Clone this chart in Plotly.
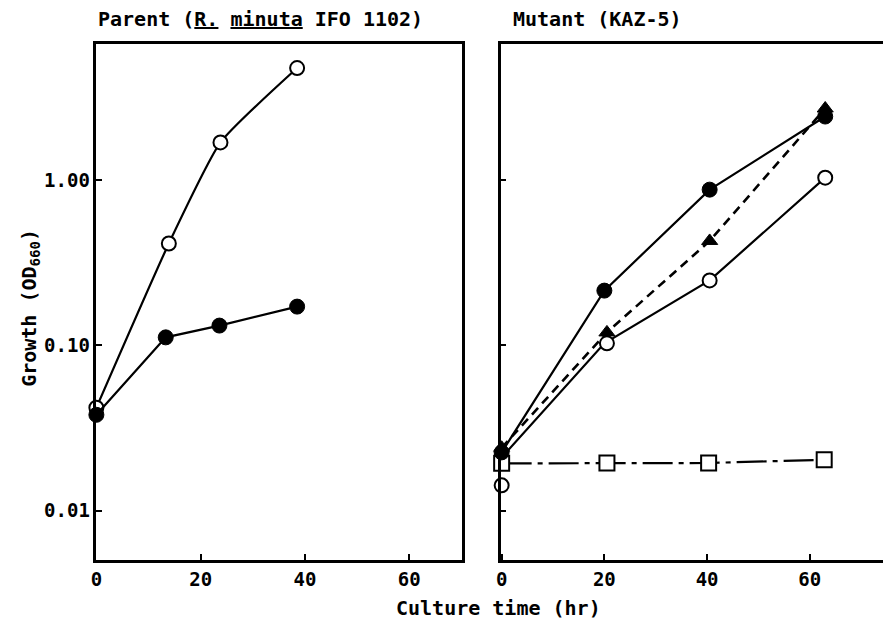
import plotly.graph_objects as go

# ---- data ----
# Parent panel
parent_open_x = [0, 13.9, 23.8, 38.5]
parent_open_y = [0.042, 0.415, 1.70, 4.8]
parent_filled_x = [0, 13.3, 23.6, 38.5]
parent_filled_y = [0.038, 0.112, 0.132, 0.172]

# Mutant panel
mut_x = [0, 20, 40.5, 63]
mut_filled_y = [0.0225, 0.215, 0.88, 2.44]
mut_tri_x = [0, 20.5, 40.5, 63]
mut_tri_y = [0.024, 0.12, 0.43, 2.73]
mut_open_line_y = [0.021, 0.103, 0.248, 1.04]
mut_open_x = [0, 20.5, 40.5, 63]
mut_open_y = [0.0142, 0.103, 0.248, 1.04]
mut_sq_x = [0, 20.5, 40.3, 62.8]
mut_sq_y = [0.0193, 0.0194, 0.0194, 0.0203]

y_tickvals = [0.01, 0.1, 1.0]
y_ticktext = ["0.01", "0.10", "1.00"]
x_tickvals = [0, 20, 40, 60]

W, H = 883, 625
FONT = "DejaVu Sans Mono"
BLACK = "black"

fig = go.Figure()

def mk_open(size=14):
    return dict(symbol="circle", size=size, color="white", line=dict(color=BLACK, width=2))

def mk_filled(symbol="circle", size=15):
    return dict(symbol=symbol, size=size, color=BLACK, line=dict(color=BLACK, width=1))

# Parent
fig.add_trace(go.Scatter(x=parent_open_x, y=parent_open_y, mode="lines+markers",
                         line=dict(color=BLACK, width=2.2, shape="spline", smoothing=0.5),
                         marker=mk_open(), cliponaxis=False, xaxis="x", yaxis="y"))
fig.add_trace(go.Scatter(x=parent_filled_x, y=parent_filled_y, mode="lines+markers",
                         line=dict(color=BLACK, width=2.2),
                         marker=mk_filled(), cliponaxis=False, xaxis="x", yaxis="y"))

# Mutant
fig.add_trace(go.Scatter(x=mut_sq_x, y=mut_sq_y, mode="lines+markers",
                         line=dict(color=BLACK, width=2.2, dash="30px,6px,5px,6px"),
                         marker=dict(symbol="square", size=15, color="white", line=dict(color=BLACK, width=2)),
                         cliponaxis=False, xaxis="x2", yaxis="y2"))
fig.add_trace(go.Scatter(x=mut_x, y=mut_open_line_y, mode="lines",
                         line=dict(color=BLACK, width=2.2),
                         cliponaxis=False, xaxis="x2", yaxis="y2"))
fig.add_trace(go.Scatter(x=mut_open_x, y=mut_open_y, mode="markers",
                         marker=mk_open(), cliponaxis=False, xaxis="x2", yaxis="y2"))
fig.add_trace(go.Scatter(x=mut_tri_x, y=mut_tri_y, mode="lines+markers",
                         line=dict(color=BLACK, width=2.6, dash="9px,6px"),
                         marker=mk_filled("triangle-up", 14), cliponaxis=False, xaxis="x2", yaxis="y2"))
fig.add_trace(go.Scatter(x=mut_x, y=mut_filled_y, mode="lines+markers",
                         line=dict(color=BLACK, width=2.2),
                         marker=mk_filled(), cliponaxis=False, xaxis="x2", yaxis="y2"))

ydom = [1 - 560 / H, 1 - 44 / H]
axis_common = dict(showline=True, linecolor=BLACK, linewidth=2.5, ticks="inside",
                   ticklen=6, tickwidth=2, tickcolor=BLACK, showgrid=False, zeroline=False,
                   tickfont=dict(family=FONT, size=19, color=BLACK, weight="bold"))

fig.update_layout(
    width=W, height=H,
    margin=dict(l=0, r=0, t=0, b=0),
    paper_bgcolor="white", plot_bgcolor="white",
    showlegend=False,
    xaxis=dict(domain=[91 / W, 459 / W], range=[0, 70.1], tickvals=x_tickvals,
               mirror=True, anchor="y", **axis_common),
    yaxis=dict(domain=ydom, type="log", range=[-2.3, 0.827], tickvals=y_tickvals,
               ticktext=y_ticktext, mirror=True, anchor="x", **axis_common),
    xaxis2=dict(domain=[498 / W, 1.0], range=[-0.2, 74.25], tickvals=x_tickvals,
                mirror=True, anchor="y2", **axis_common),
    yaxis2=dict(domain=ydom, type="log", range=[-2.3, 0.827], tickvals=y_tickvals,
                showticklabels=False, mirror=False, anchor="x2", **axis_common),
)

ann_font = dict(family=FONT, size=20, color=BLACK, weight="bold")
fig.add_annotation(text="Parent (<u>R.</u> <u>minuta</u> IFO 1102)", x=91 / W, y=1 - 19 / H,
                   xref="paper", yref="paper", xanchor="left", yanchor="middle",
                   showarrow=False, font=ann_font)
fig.add_annotation(text="Mutant (KAZ-5)", x=508 / W, y=1 - 19 / H,
                   xref="paper", yref="paper", xanchor="left", yanchor="middle",
                   showarrow=False, font=ann_font)
fig.add_annotation(text="Growth (OD<sub>660</sub>)", x=24 / W, y=1 - 308 / H,
                   xref="paper", yref="paper", xanchor="center", yanchor="middle",
                   textangle=-90, showarrow=False, font=ann_font)
fig.add_annotation(text="Culture time (hr)", x=496 / W, y=1 - 608 / H,
                   xref="paper", yref="paper", xanchor="center", yanchor="middle",
                   showarrow=False, font=ann_font)

fig.write_html("out.html")
